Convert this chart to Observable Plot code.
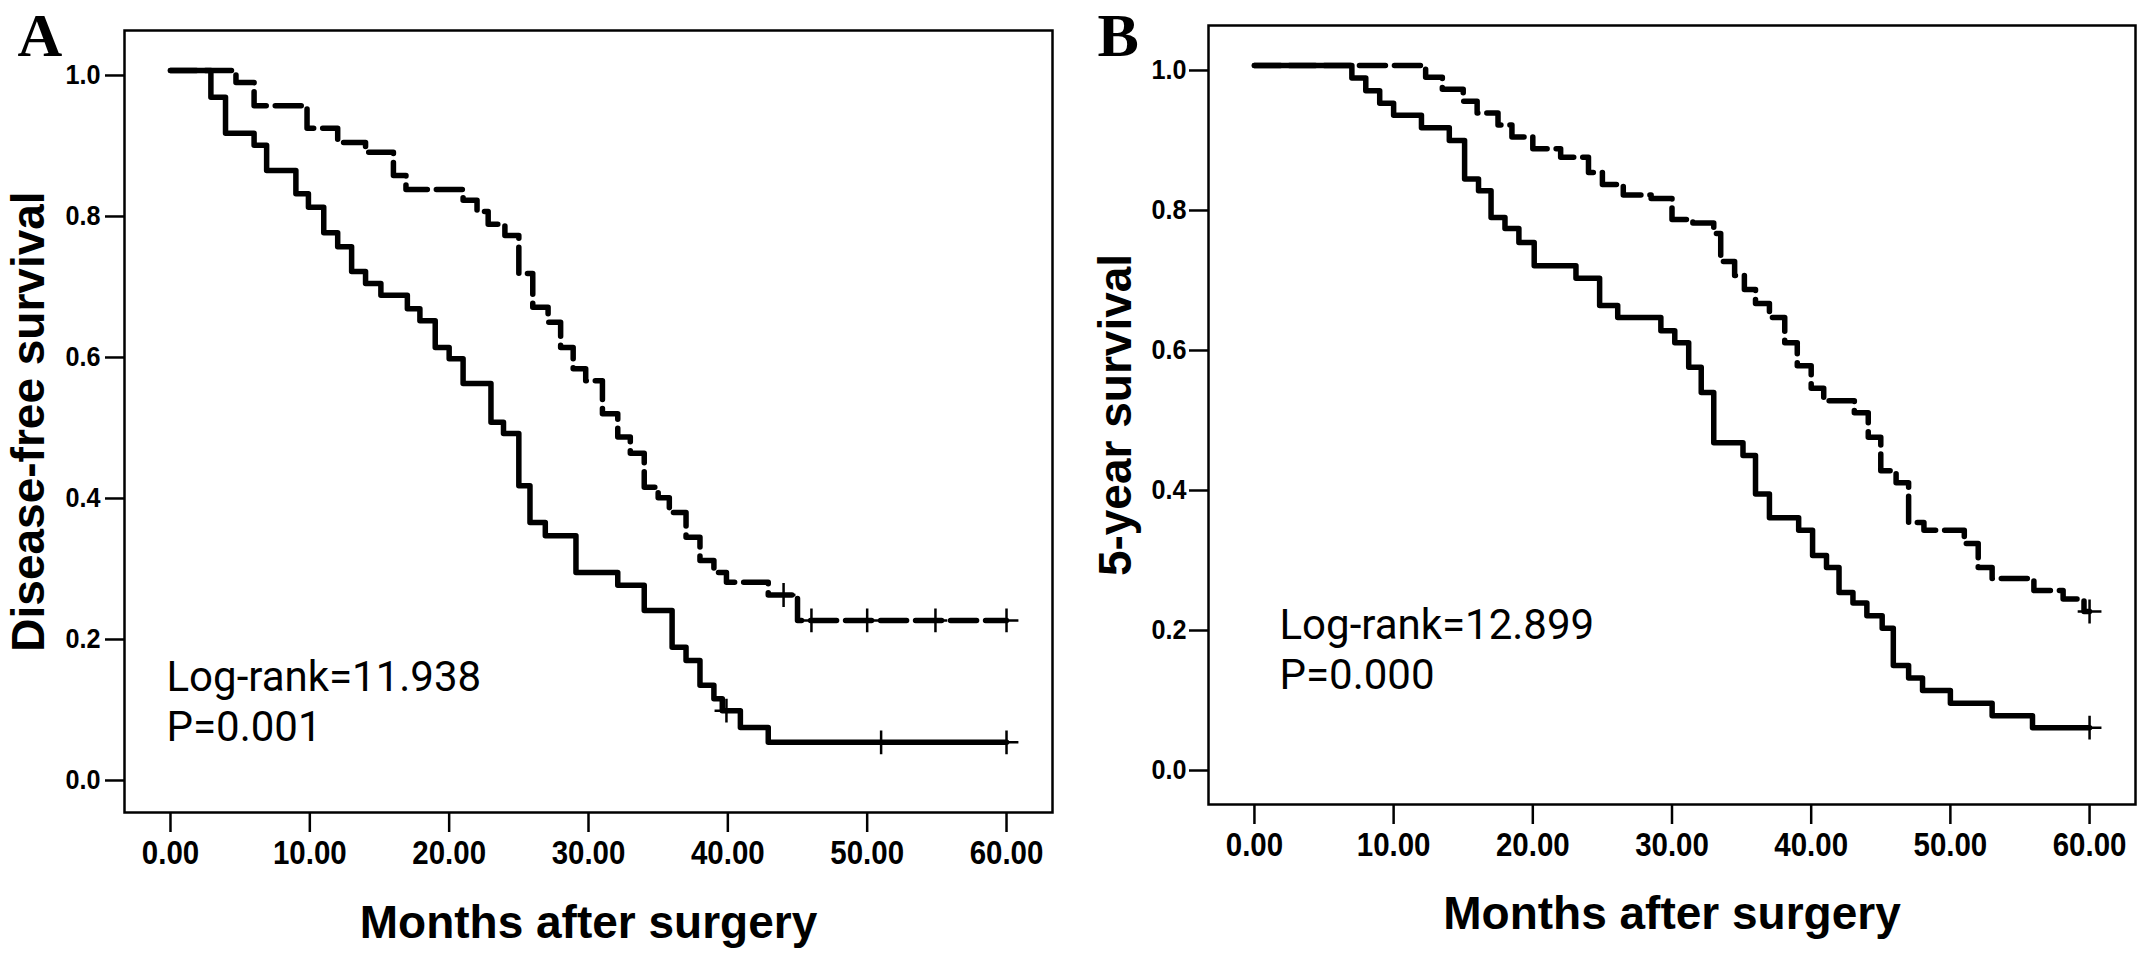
<!DOCTYPE html>
<html><head><meta charset="utf-8">
<script src="https://cdn.jsdelivr.net/npm/d3@7"></script>
<script src="https://cdn.jsdelivr.net/npm/@observablehq/plot@0.6"></script>
<style>
body{margin:0;background:#fff;}
#wrap{position:relative;width:2150px;height:959px;overflow:hidden;background:#fff;}
#pa{position:absolute;left:0;top:0;}
#pb{position:absolute;left:1075px;top:0;}
</style></head><body><div id="wrap"><div id="pa"></div><div id="pb"></div></div>
<script>
// ---------- data ----------
const xTicks = [0, 10, 20, 30, 40, 50, 60];
const yTicks = [0, 0.2, 0.4, 0.6, 0.8, 1.0];
const xTitle = "Months after surgery";
const yTitleA = "Disease-free survival";
const yTitleB = "5-year survival";
const panelA = "A";
const panelB = "B";
const noteA = ["Log-rank=11.938", "P=0.001"];
const noteB = ["Log-rank=12.899", "P=0.000"];

// Panel A, solid curve (lower group)
const aSolidT = [0, 2.9, 3.95, 6.0, 6.9, 9.0, 9.9, 11.0, 12.0, 13.0, 14.0, 15.1, 17.0, 17.9, 19.0, 20.0, 21.0, 23.0, 23.9, 25.0, 25.8, 26.9, 29.1, 32.1, 34.0, 36.0, 37.0, 38.0, 39.0, 39.6, 40.9, 42.9, 60];
const aSolidS = [1.0, 0.962, 0.911, 0.894, 0.858, 0.825, 0.806, 0.770, 0.750, 0.715, 0.698, 0.681, 0.662, 0.645, 0.607, 0.591, 0.556, 0.501, 0.485, 0.411, 0.359, 0.340, 0.288, 0.270, 0.234, 0.182, 0.163, 0.128, 0.109, 0.092, 0.068, 0.047, 0.047];
const aSolidCensor = [39.9, 51.0, 60];
// Panel A, dashed curve (upper group)
const aDashT = [0, 4.7, 6.0, 9.8, 12.0, 14.0, 16.0, 16.9, 21.0, 22.0, 22.8, 24.0, 25.0, 26.0, 27.1, 28.0, 28.9, 29.8, 31.0, 32.1, 33.0, 34.0, 35.0, 35.8, 37.0, 38.0, 39.0, 39.9, 42.9, 45.0, 60];
const aDashS = [1.0, 0.983, 0.950, 0.918, 0.898, 0.884, 0.851, 0.831, 0.816, 0.800, 0.782, 0.766, 0.712, 0.664, 0.643, 0.607, 0.577, 0.560, 0.513, 0.480, 0.457, 0.409, 0.394, 0.373, 0.338, 0.305, 0.288, 0.274, 0.256, 0.220, 0.220];
const aDashCensor = [44.0, 46.0, 50.0, 54.9, 60];

// Panel B, solid curve
const bSolidT = [0, 7.0, 8.0, 9.0, 10.0, 12.0, 14.0, 15.1, 16.1, 17.0, 18.0, 19.0, 20.1, 23.1, 24.8, 26.1, 29.2, 30.2, 31.2, 32.1, 33.0, 35.1, 36.0, 37.0, 39.1, 40.1, 41.1, 42.0, 43.0, 44.0, 45.1, 45.9, 47.0, 48.0, 50.0, 53.0, 55.9, 60];
const bSolidS = [1.0, 0.982, 0.964, 0.946, 0.929, 0.911, 0.893, 0.838, 0.821, 0.783, 0.767, 0.747, 0.714, 0.696, 0.657, 0.640, 0.621, 0.604, 0.569, 0.533, 0.461, 0.443, 0.388, 0.354, 0.336, 0.300, 0.283, 0.247, 0.232, 0.214, 0.196, 0.143, 0.125, 0.107, 0.089, 0.071, 0.054, 0.054];
const bSolidCensor = [60];
// Panel B, dashed curve
const bDashT = [0, 12.3, 13.5, 15.0, 16.0, 17.5, 18.5, 20.0, 22.0, 24.0, 25.0, 26.5, 28.5, 30.0, 31.5, 33.0, 33.5, 34.5, 35.2, 36.0, 37.0, 38.1, 39.0, 40.0, 40.9, 43.1, 44.1, 45.0, 46.1, 47.0, 48.1, 51.0, 52.0, 53.0, 56.0, 58.1, 59.6, 60];
const bDashS = [1.0, 0.983, 0.966, 0.949, 0.932, 0.915, 0.898, 0.881, 0.869, 0.847, 0.830, 0.815, 0.810, 0.780, 0.775, 0.760, 0.720, 0.700, 0.680, 0.660, 0.640, 0.604, 0.571, 0.539, 0.521, 0.504, 0.469, 0.421, 0.404, 0.347, 0.336, 0.317, 0.283, 0.267, 0.250, 0.238, 0.220, 0.220];
const bDashCensor = [60];

// ---------- helpers ----------
const rows = (T, S) => T.map((t, i) => ({t, s: S[i]}));
const survAt = (T, S, t) => { let v = S[0]; for (let i = 0; i < T.length; i++) if (T[i] <= t) v = S[i]; return v; };
const censorRows = (C, T, S) => C.map(t => ({t, s: survAt(T, S, t)}));

const arial = '"Liberation Sans", Arial, sans-serif';
const serif = '"Liberation Serif", "Times New Roman", serif';
const noteFont = 'Roboto, "Noto Sans", sans-serif';

function squeeze(svg, label, sx) {
  svg.querySelectorAll(`[aria-label="${label}"] text`).forEach(t => {
    const tr = t.getAttribute("transform");
    if (tr) t.setAttribute("transform", tr + ` scale(${sx},1)`);
    else {
      const x = +t.getAttribute("x") || 0, y = +t.getAttribute("y") || 0;
      t.removeAttribute("x"); t.removeAttribute("y");
      t.setAttribute("transform", `translate(${x},${y}) scale(${sx},1)`);
    }
  });
}

function panel(o) {
  const svg = Plot.plot({
    width: o.width, height: 959,
    marginLeft: o.ml, marginRight: o.mr, marginTop: o.mt, marginBottom: o.mb,
    x: {domain: [-3.3, 63.3]},
    y: {domain: o.ydom},
    style: {background: "white", color: "black", overflow: "visible"},
    marks: [
      Plot.frame({stroke: "black", strokeWidth: 2.5}),
      Plot.axisY({ticks: yTicks, tickSize: 19, tickPadding: o.ytp, tickFormat: d3.format(".1f"),
        fontSize: 28, fontFamily: arial, fontWeight: "bold", strokeWidth: 2.5, dy: 5, label: null}),
      Plot.axisX({ticks: xTicks, tickSize: 20, tickPadding: 8, tickFormat: d3.format(".2f"),
        fontSize: 33.5, fontFamily: arial, fontWeight: "bold", strokeWidth: 2.5, label: null}),
      Plot.line(rows(o.dT, o.dS), {x: "t", y: "s", curve: "step-after", stroke: "black", strokeWidth: 5.5, strokeDasharray: "26,9"}),
      Plot.line(rows(o.sT, o.sS), {x: "t", y: "s", curve: "step-after", stroke: "black", strokeWidth: 5.5}),
      Plot.dot(censorRows(o.dC, o.dT, o.dS).concat(censorRows(o.sC, o.sT, o.sS)),
        {x: "t", y: "s", symbol: "plus", r: 7.7, stroke: "black", strokeWidth: 2.5}),
      Plot.text([o.ytitle], {frameAnchor: "left", rotate: -90, lineAnchor: "bottom", textAnchor: "middle", dx: o.ytdx,
        fontSize: 46, fontWeight: "bold", fontFamily: arial}),
      Plot.text([xTitle], {frameAnchor: "bottom", lineAnchor: "bottom", textAnchor: "middle", dy: o.xtdy,
        fontSize: 46, fontWeight: "bold", fontFamily: arial}),
      Plot.text([o.letter], {frameAnchor: "top-left", lineAnchor: "bottom", textAnchor: "start", dx: o.ldx, dy: o.ldy,
        fontSize: 62, fontWeight: "bold", fontFamily: serif}),
      Plot.text([o.note[0]], {frameAnchor: "bottom-left", lineAnchor: "bottom", textAnchor: "start", dx: o.ndx, dy: o.ndy - 50,
        fontSize: 42, fontFamily: noteFont}),
      Plot.text([o.note[1]], {frameAnchor: "bottom-left", lineAnchor: "bottom", textAnchor: "start", dx: o.ndx, dy: o.ndy,
        fontSize: 42, fontFamily: noteFont})
    ]
  });
  squeeze(svg, "x-axis tick label", 0.88);
  squeeze(svg, "y-axis tick label", 0.9);
  return svg;
}

document.getElementById("pa").appendChild(panel({
  width: 1070, ml: 124, mr: 18, mt: 30, mb: 147, ydom: [-0.0525, 1.0567], ytp: 5,
  sT: aSolidT, sS: aSolidS, sC: aSolidCensor, dT: aDashT, dS: aDashS, dC: aDashCensor,
  ytitle: yTitleA, ytdx: -81, xtdy: 125, letter: panelA, ldx: -107, ldy: 25,
  note: noteA, ndx: 42, ndy: -72
}));
document.getElementById("pb").appendChild(panel({
  width: 1075, ml: 133, mr: 15, mt: 25, mb: 155, ydom: [-0.0557, 1.0571], ytp: 3,
  sT: bSolidT, sS: bSolidS, sC: bSolidCensor, dT: bDashT, dS: bDashS, dC: bDashCensor,
  ytitle: yTitleB, ytdx: -78, xtdy: 124, letter: panelB, ldx: -111, ldy: 30,
  note: noteB, ndx: 71, ndy: -116
}));
</script></body></html>
